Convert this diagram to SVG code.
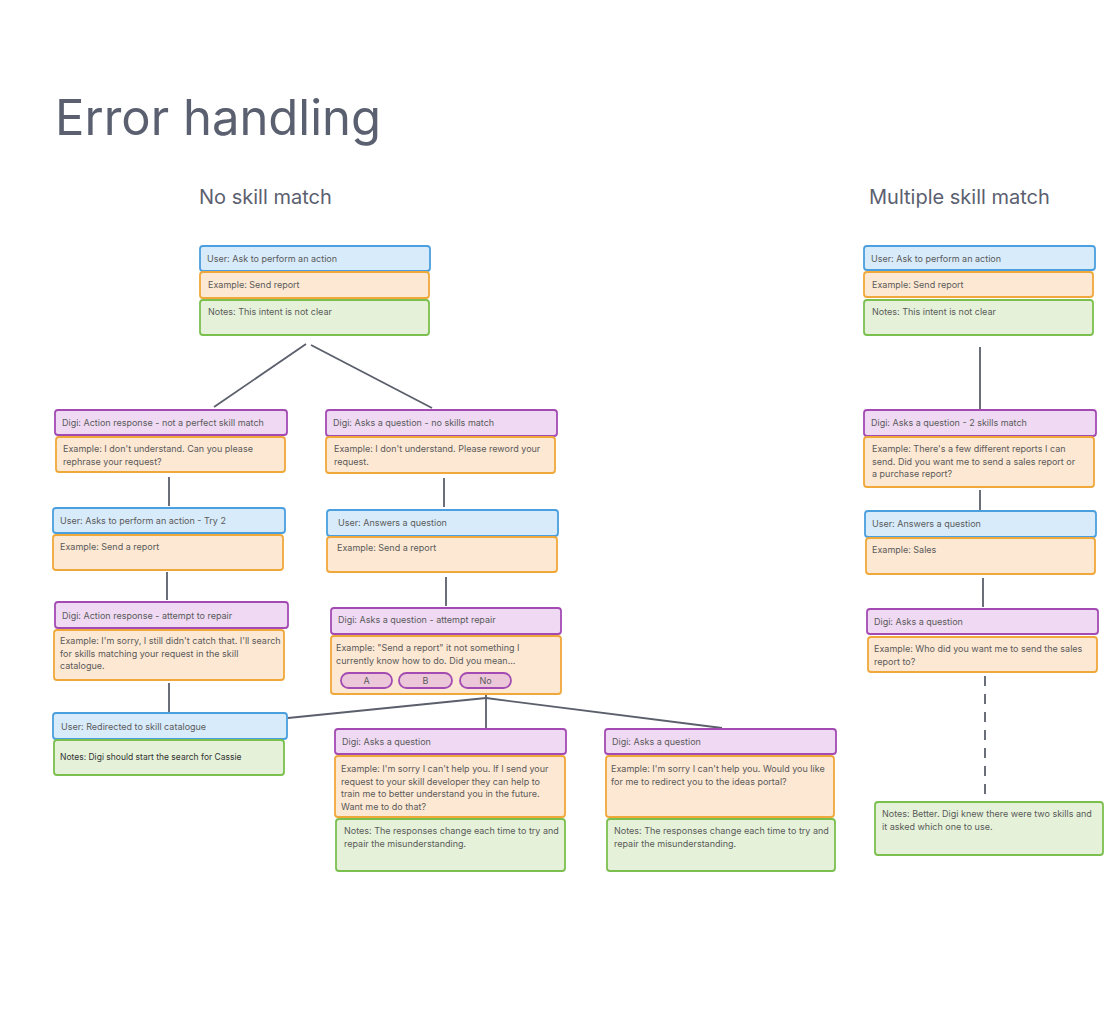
<svg xmlns="http://www.w3.org/2000/svg" width="1118" height="1013" viewBox="0 0 1118 1013">
<style>
text{font-family:Inter,"Noto Sans",sans-serif;fill:#5a5a5a;font-size:9px}
.title{font-size:49px;fill:#5b6070}
.h{font-size:20px;fill:#5b6070}
rect{stroke-width:1.8}
.b{fill:#d8ebfb;stroke:#4a9fde}
.o{fill:#fde8d3;stroke:#f0a83a}
.g{fill:#e5f2d9;stroke:#7bbf4e}
.p{fill:#efd9f3;stroke:#a34bb3}
.pill{fill:#ecc6d9;stroke:#a34bb3;stroke-width:1.8}
.c line{stroke:#5a5f6b;stroke-width:1.8}
.dark{fill:#333}
</style>
<rect width="1118" height="1013" fill="#fff"/>
<text class="title" x="55" y="135">Error handling</text>
<text class="h" x="199" y="204">No skill match</text>
<text class="h" x="869" y="204">Multiple skill match</text>
<g class="c">
<line x1="306" y1="344" x2="214" y2="407"/>
<line x1="311" y1="345" x2="432" y2="408"/>
<line x1="169" y1="477" x2="169" y2="506"/>
<line x1="167" y1="572" x2="167" y2="600"/>
<line x1="169" y1="683" x2="169" y2="712"/>
<line x1="444" y1="478" x2="444" y2="507"/>
<line x1="446" y1="577" x2="446" y2="606"/>
<line x1="486" y1="689" x2="486" y2="728"/>
<line x1="486" y1="698" x2="288" y2="718"/>
<line x1="486" y1="698" x2="722" y2="728"/>
<line x1="980" y1="347" x2="980" y2="409"/>
<line x1="980" y1="490" x2="980" y2="510"/>
<line x1="983" y1="578" x2="983" y2="607"/>
<line x1="985" y1="676" x2="985" y2="800" stroke-dasharray="10 8"/>
</g>
<g id="n1">
<rect class="b" x="200" y="246" width="230" height="25" rx="3"/>
<text x="207" y="262">User: Ask to perform an action</text>
<rect class="o" x="200" y="272" width="229" height="26" rx="3"/>
<text x="208" y="288">Example: Send report</text>
<rect class="g" x="200" y="300" width="229" height="35" rx="3"/>
<text x="208" y="315">Notes: This intent is not clear</text>
</g>
<g id="n2">
<rect class="p" x="55" y="410" width="232" height="25" rx="3"/>
<text x="62" y="426">Digi: Action response - not a perfect skill match</text>
<rect class="o" x="56" y="437" width="229" height="35" rx="3"/>
<text x="63" y="452">Example: I don't understand. Can you please</text>
<text x="63" y="464.5">rephrase your request?</text>
</g>
<g id="n3">
<rect class="b" x="53" y="508" width="232" height="25" rx="3"/>
<text x="60" y="524">User: Asks to perform an action - Try 2</text>
<rect class="o" x="53" y="535" width="230" height="35" rx="3"/>
<text x="60" y="550">Example: Send a report</text>
</g>
<g id="n4">
<rect class="p" x="55" y="602" width="233" height="26" rx="3"/>
<text x="62" y="619">Digi: Action response - attempt to repair</text>
<rect class="o" x="54" y="630" width="230" height="50" rx="3"/>
<text x="60" y="644">Example: I'm sorry, I still didn't catch that. I'll search</text>
<text x="60" y="656.5">for skills matching your request in the skill</text>
<text x="60" y="669">catalogue.</text>
</g>
<g id="n5">
<rect class="b" x="53" y="713" width="234" height="26" rx="3"/>
<text x="61" y="730">User: Redirected to skill catalogue</text>
<rect class="g" x="54" y="740" width="230" height="35" rx="3"/>
<text class="dark" x="60" y="760" style="font-size:8.5px">Notes: Digi should start the search for Cassie</text>
</g>
<g id="n6">
<rect class="p" x="326" y="410" width="231" height="26" rx="3"/>
<text x="333" y="426">Digi: Asks a question - no skills match</text>
<rect class="o" x="326" y="437" width="229" height="36" rx="3"/>
<text x="334" y="452">Example: I don't understand. Please reword your</text>
<text x="334" y="464.5">request.</text>
</g>
<g id="n7">
<rect class="b" x="327" y="510" width="231" height="26" rx="3"/>
<text x="338" y="526">User: Answers a question</text>
<rect class="o" x="327" y="537" width="230" height="35" rx="3"/>
<text x="337" y="551">Example: Send a report</text>
</g>
<g id="n8">
<rect class="p" x="331" y="608" width="230" height="26" rx="3"/>
<text x="338" y="623">Digi: Asks a question - attempt repair</text>
<rect class="o" x="331" y="636" width="230" height="58" rx="3"/>
<text x="336" y="651">Example: "Send a report" it not something I</text>
<text x="336" y="663.5">currently know how to do. Did you mean...</text>
<rect class="pill" x="341" y="673" width="51" height="15" rx="7.5"/>
<text x="366.5" y="684" text-anchor="middle">A</text>
<rect class="pill" x="399" y="673" width="53" height="15" rx="7.5"/>
<text x="425.5" y="684" text-anchor="middle">B</text>
<rect class="pill" x="460" y="673" width="51" height="15" rx="7.5"/>
<text x="485.5" y="684" text-anchor="middle">No</text>
</g>
<g id="n9">
<rect class="p" x="335" y="729" width="231" height="25" rx="3"/>
<text x="342" y="745">Digi: Asks a question</text>
<rect class="o" x="335" y="756" width="230" height="61" rx="3"/>
<text x="341" y="772">Example: I'm sorry I can't help you. If I send your</text>
<text x="341" y="784.5">request to your skill developer they can help to</text>
<text x="341" y="797">train me to better understand you in the future.</text>
<text x="341" y="809.5">Want me to do that?</text>
<rect class="g" x="336" y="819" width="229" height="52" rx="3"/>
<text x="344" y="834">Notes: The responses change each time to try and</text>
<text x="344" y="846.5">repair the misunderstanding.</text>
</g>
<g id="n10">
<rect class="p" x="605" y="729" width="231" height="25" rx="3"/>
<text x="612" y="745">Digi: Asks a question</text>
<rect class="o" x="606" y="756" width="228" height="61" rx="3"/>
<text x="611" y="772">Example: I'm sorry I can't help you. Would you like</text>
<text x="611" y="784.5">for me to redirect you to the ideas portal?</text>
<rect class="g" x="607" y="819" width="228" height="52" rx="3"/>
<text x="614" y="834">Notes: The responses change each time to try and</text>
<text x="614" y="846.5">repair the misunderstanding.</text>
</g>
<g id="m1">
<rect class="b" x="864" y="246" width="231" height="24" rx="3"/>
<text x="871" y="262">User: Ask to perform an action</text>
<rect class="o" x="864" y="272" width="229" height="25" rx="3"/>
<text x="872" y="288">Example: Send report</text>
<rect class="g" x="864" y="300" width="229" height="35" rx="3"/>
<text x="872" y="315">Notes: This intent is not clear</text>
</g>
<g id="m2">
<rect class="p" x="864" y="410" width="232" height="26" rx="3"/>
<text x="871" y="426">Digi: Asks a question - 2 skills match</text>
<rect class="o" x="864" y="437" width="230" height="50" rx="3"/>
<text x="872" y="452">Example: There's a few different reports I can</text>
<text x="872" y="464.5">send. Did you want me to send a sales report or</text>
<text x="872" y="477">a purchase report?</text>
</g>
<g id="m3">
<rect class="b" x="865" y="511" width="231" height="26" rx="3"/>
<text x="872" y="527">User: Answers a question</text>
<rect class="o" x="866" y="538" width="229" height="36" rx="3"/>
<text x="872" y="553">Example: Sales</text>
</g>
<g id="m4">
<rect class="p" x="867" y="609" width="231" height="25" rx="3"/>
<text x="874" y="625">Digi: Asks a question</text>
<rect class="o" x="868" y="637" width="229" height="35" rx="3"/>
<text x="874" y="652">Example: Who did you want me to send the sales</text>
<text x="874" y="664.5">report to?</text>
</g>
<g id="m5">
<rect class="g" x="875" y="802" width="228" height="53" rx="3"/>
<text x="882" y="817">Notes: Better. Digi knew there were two skills and</text>
<text x="882" y="829.5">it asked which one to use.</text>
</g>
</svg>
